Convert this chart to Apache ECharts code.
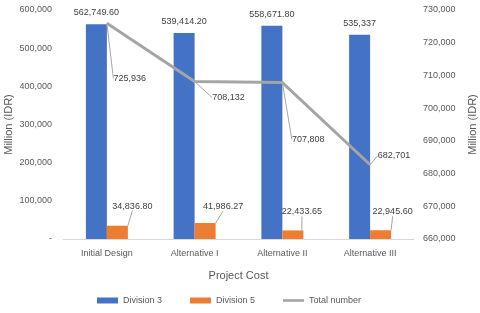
<!DOCTYPE html>
<html>
<head>
<meta charset="utf-8">
<script src="https://cdn.jsdelivr.net/npm/echarts@6/dist/echarts.min.js"></script>
<style>html,body{margin:0;padding:0;background:#fff}#c{width:480px;height:313px}</style>
</head>
<body>
<div id="c"></div>
<script>
var categories = ['Initial Design', 'Alternative I', 'Alternative II', 'Alternative III'];
var division3 = [562749.60, 539414.20, 558671.80, 535337];
var division5 = [34836.80, 41986.27, 22433.65, 22945.60];
var totalNumber = [725936, 708132, 707808, 682701];
var leftTicks = { min: 0, max: 600000, interval: 100000 };
var rightTicks = { min: 660000, max: 730000, interval: 10000 };

// label offsets (style only)
var div5Offsets = [[15, -11], [18, -8], [9, -10], [12, -10]];
var totalOffsets = [[1, 55], [12, 16], [4, 57], [2, -9]];

var FONT = 'Liberation Sans';
function fmtNum(v) {
  if (Math.round(v) === v) return v.toLocaleString('en-US');
  return v.toLocaleString('en-US', { minimumFractionDigits: 2, maximumFractionDigits: 2 });
}
function fmtAxis(v) { return v === 0 ? '-' : v.toLocaleString('en-US'); }

var chart = echarts.init(document.getElementById('c'), null, { renderer: 'canvas' });
chart.setOption({
  animation: false,
  textStyle: { fontFamily: FONT },
  grid: { left: 63, right: 66, top: 10, bottom: 74, containLabel: false, outerBoundsMode: 'none' },
  legend: {
    left: 97, top: 296, padding: 0,
    itemWidth: 21, itemHeight: 6, itemGap: 28,
    textStyle: { fontFamily: FONT, fontSize: 9, color: '#595959' },
    data: [
      { name: 'Division 3', icon: 'rect' },
      { name: 'Division 5', icon: 'rect' },
      { name: 'Total number', icon: 'path://M0,0 L20,0 L20,2.5 L0,2.5 Z', itemStyle: { color: '#A5A5A5' } }
    ]
  },
  xAxis: {
    type: 'category', data: categories,
    name: 'Project Cost', nameLocation: 'middle', nameGap: 31,
    nameTextStyle: { fontFamily: FONT, fontSize: 11, color: '#595959' },
    axisLine: { lineStyle: { color: '#d9d9d9' } },
    axisTick: { show: false },
    axisLabel: { fontFamily: FONT, fontSize: 9, color: '#595959', margin: 10 }
  },
  yAxis: [
    {
      type: 'value', min: leftTicks.min, max: leftTicks.max, interval: leftTicks.interval,
      name: 'Million (IDR)', nameLocation: 'middle', nameGap: 49, nameMoveOverlap: false,
      nameTextStyle: { fontFamily: FONT, fontSize: 11, color: '#595959' },
      axisLine: { show: false }, axisTick: { show: false }, splitLine: { show: false },
      axisLabel: { fontFamily: FONT, fontSize: 9, color: '#595959', margin: 11, formatter: fmtAxis }
    },
    {
      type: 'value', min: rightTicks.min, max: rightTicks.max, interval: rightTicks.interval,
      name: 'Million (IDR)', nameLocation: 'middle', nameGap: 53, nameRotate: 90, nameMoveOverlap: false,
      nameTextStyle: { fontFamily: FONT, fontSize: 11, color: '#595959' },
      axisLine: { show: false }, axisTick: { show: false }, splitLine: { show: false },
      axisLabel: { fontFamily: FONT, fontSize: 9, color: '#595959', margin: 9, formatter: fmtAxis }
    }
  ],
  series: [
    {
      name: 'Division 3', type: 'bar', data: division3, barWidth: 21, barGap: '0%',
      itemStyle: { color: '#4472C4' },
      label: { show: true, position: 'top', distance: 7, fontFamily: FONT, fontSize: 9, color: '#404040',
        formatter: function (p) { return fmtNum(p.value); } }
    },
    {
      name: 'Division 5', type: 'bar', data: division5, barWidth: 21, barGap: '0%',
      itemStyle: { color: '#ED7D31' },
      label: { show: true, position: 'top', distance: 4, fontFamily: FONT, fontSize: 9, color: '#404040',
        formatter: function (p) { return fmtNum(p.value); } },
      labelLine: { show: true, lineStyle: { color: '#a6a6a6', width: 1 } },
      labelLayout: function (p) { var o = div5Offsets[p.dataIndex]; return { dx: o[0], dy: o[1] }; }
    },
    {
      name: 'Total number', type: 'line', yAxisIndex: 1, data: totalNumber,
      symbol: 'circle', symbolSize: 1, showSymbol: true,
      lineStyle: { color: '#A5A5A5', width: 3 }, itemStyle: { color: '#A5A5A5' },
      label: { show: true, position: 'right', distance: 5, fontFamily: FONT, fontSize: 9, color: '#404040',
        formatter: function (p) { return fmtNum(p.value); } },
      labelLine: { show: true, lineStyle: { color: '#a6a6a6', width: 1 } },
      labelLayout: function (p) { var o = totalOffsets[p.dataIndex]; return { dx: o[0], dy: o[1] }; }
    }
  ]
});
</script>
</body>
</html>
